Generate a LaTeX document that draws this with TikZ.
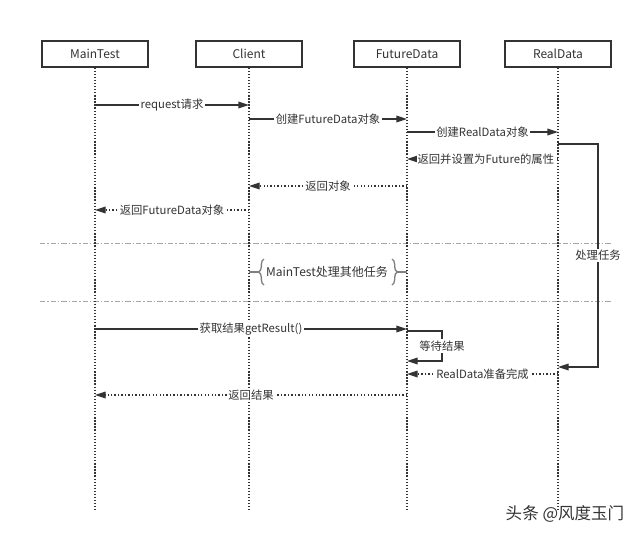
\documentclass[tikz,border=0pt]{standalone}
\usepackage{fontspec}
\setmainfont{Noto Sans CJK SC}
\usetikzlibrary{arrows.meta,decorations.pathreplacing}
\definecolor{ink}{HTML}{333333}

\begin{document}
\begin{tikzpicture}[x=0.75pt,y=-0.75pt,
  every node/.style={font=\fontsize{8.5}{9.5}\selectfont,text=ink},
  actor/.style={draw=ink,line width=0.9pt,fill=white,minimum width=79.5pt,
    minimum height=19.5pt,font=\fontsize{9}{10}\selectfont},
  life/.style={ink,line width=1pt,dash pattern=on 1pt off 1.3pt},
  call/.style={ink,line width=1pt,-{Triangle[length=8pt,width=5pt]}},
  reply/.style={call,dash pattern=on 1pt off 1.6pt},
  lbl/.style={fill=white,inner sep=1pt},
  sep/.style={black!35,line width=0.6pt,dash pattern=on 4pt off 1.5pt on 1pt off 1.5pt}]
  \useasboundingbox (0,0) rectangle (640,537);

  % objects and their lifelines
  \draw[sep] (40,243) -- (612,243);
  \draw[sep] (40,301) -- (612,301);
  \node[actor] (mt) at (95,54) {MainTest};
  \node[actor] (cl) at (249,54) {Client};
  \node[actor] (fd) at (407,54) {FutureData};
  \node[actor] (rd) at (558,54) {RealData};
  \foreach \o in {mt,cl,fd,rd}
    \draw[life] (\o.south) -- (\o.south |- 0,510);

  % first part: FutureData is returned at once
  \draw[call] (mt |- 0,105) -- node[lbl] {request请求} (cl |- 0,105);
  \draw[call] (cl |- 0,119) -- node[lbl] {创建FutureData对象} (fd |- 0,119);
  \draw[call] (fd |- 0,132) -- node[lbl] {创建RealData对象} (rd |- 0,132);
  \draw[reply] (rd |- 0,159) -- node[lbl,inner sep=0.5pt,xshift=2.5pt]
    {返回并设置为Future的属性} (fd |- 0,159);
  \draw[reply] (fd |- 0,186) -- node[lbl] {返回对象} (cl |- 0,186);
  \draw[reply] (cl |- 0,210) -- node[lbl] {返回FutureData对象} (mt |- 0,210);

  % RealData works in the background
  \draw[call] (rd |- 0,144) -- (598,144) -- node[lbl] {处理任务} (598,367)
    -- (rd |- 0,367);

  % MainTest goes on with other work
  \node[font=\fontsize{9}{10}\selectfont] (busy) at (327,272) {MainTest处理其他任务};
  \begin{scope}[black!50,line width=1pt]
    \draw[decorate,decoration={brace,amplitude=4pt}] (264,285) -- (264,259);
    \draw[decorate,decoration={brace,amplitude=4pt}] (392,259) -- (392,285);
    \draw (cl |- 0,272) -- (259,272);
    \draw (397,272) -- (fd |- 0,272);
  \end{scope}

  % second part: the result is fetched
  \draw[call] (mt |- 0,329) -- node[lbl] {获取结果getResult()} (fd |- 0,329);
  \draw[call] (fd |- 0,331) -- (442,331) -- node[lbl] {等待结果} (442,361)
    -- (fd |- 0,361);
  \draw[reply] (rd |- 0,374) -- node[lbl] {RealData准备完成} (fd |- 0,374);
  \draw[reply] (fd |- 0,395) -- node[lbl] {返回结果} (mt |- 0,395);

  \node[font=\fontsize{12.4}{13}\selectfont,text=black!80] (mark) at (565,514)
    {头条 @风度玉门};
\end{tikzpicture}
\end{document}
